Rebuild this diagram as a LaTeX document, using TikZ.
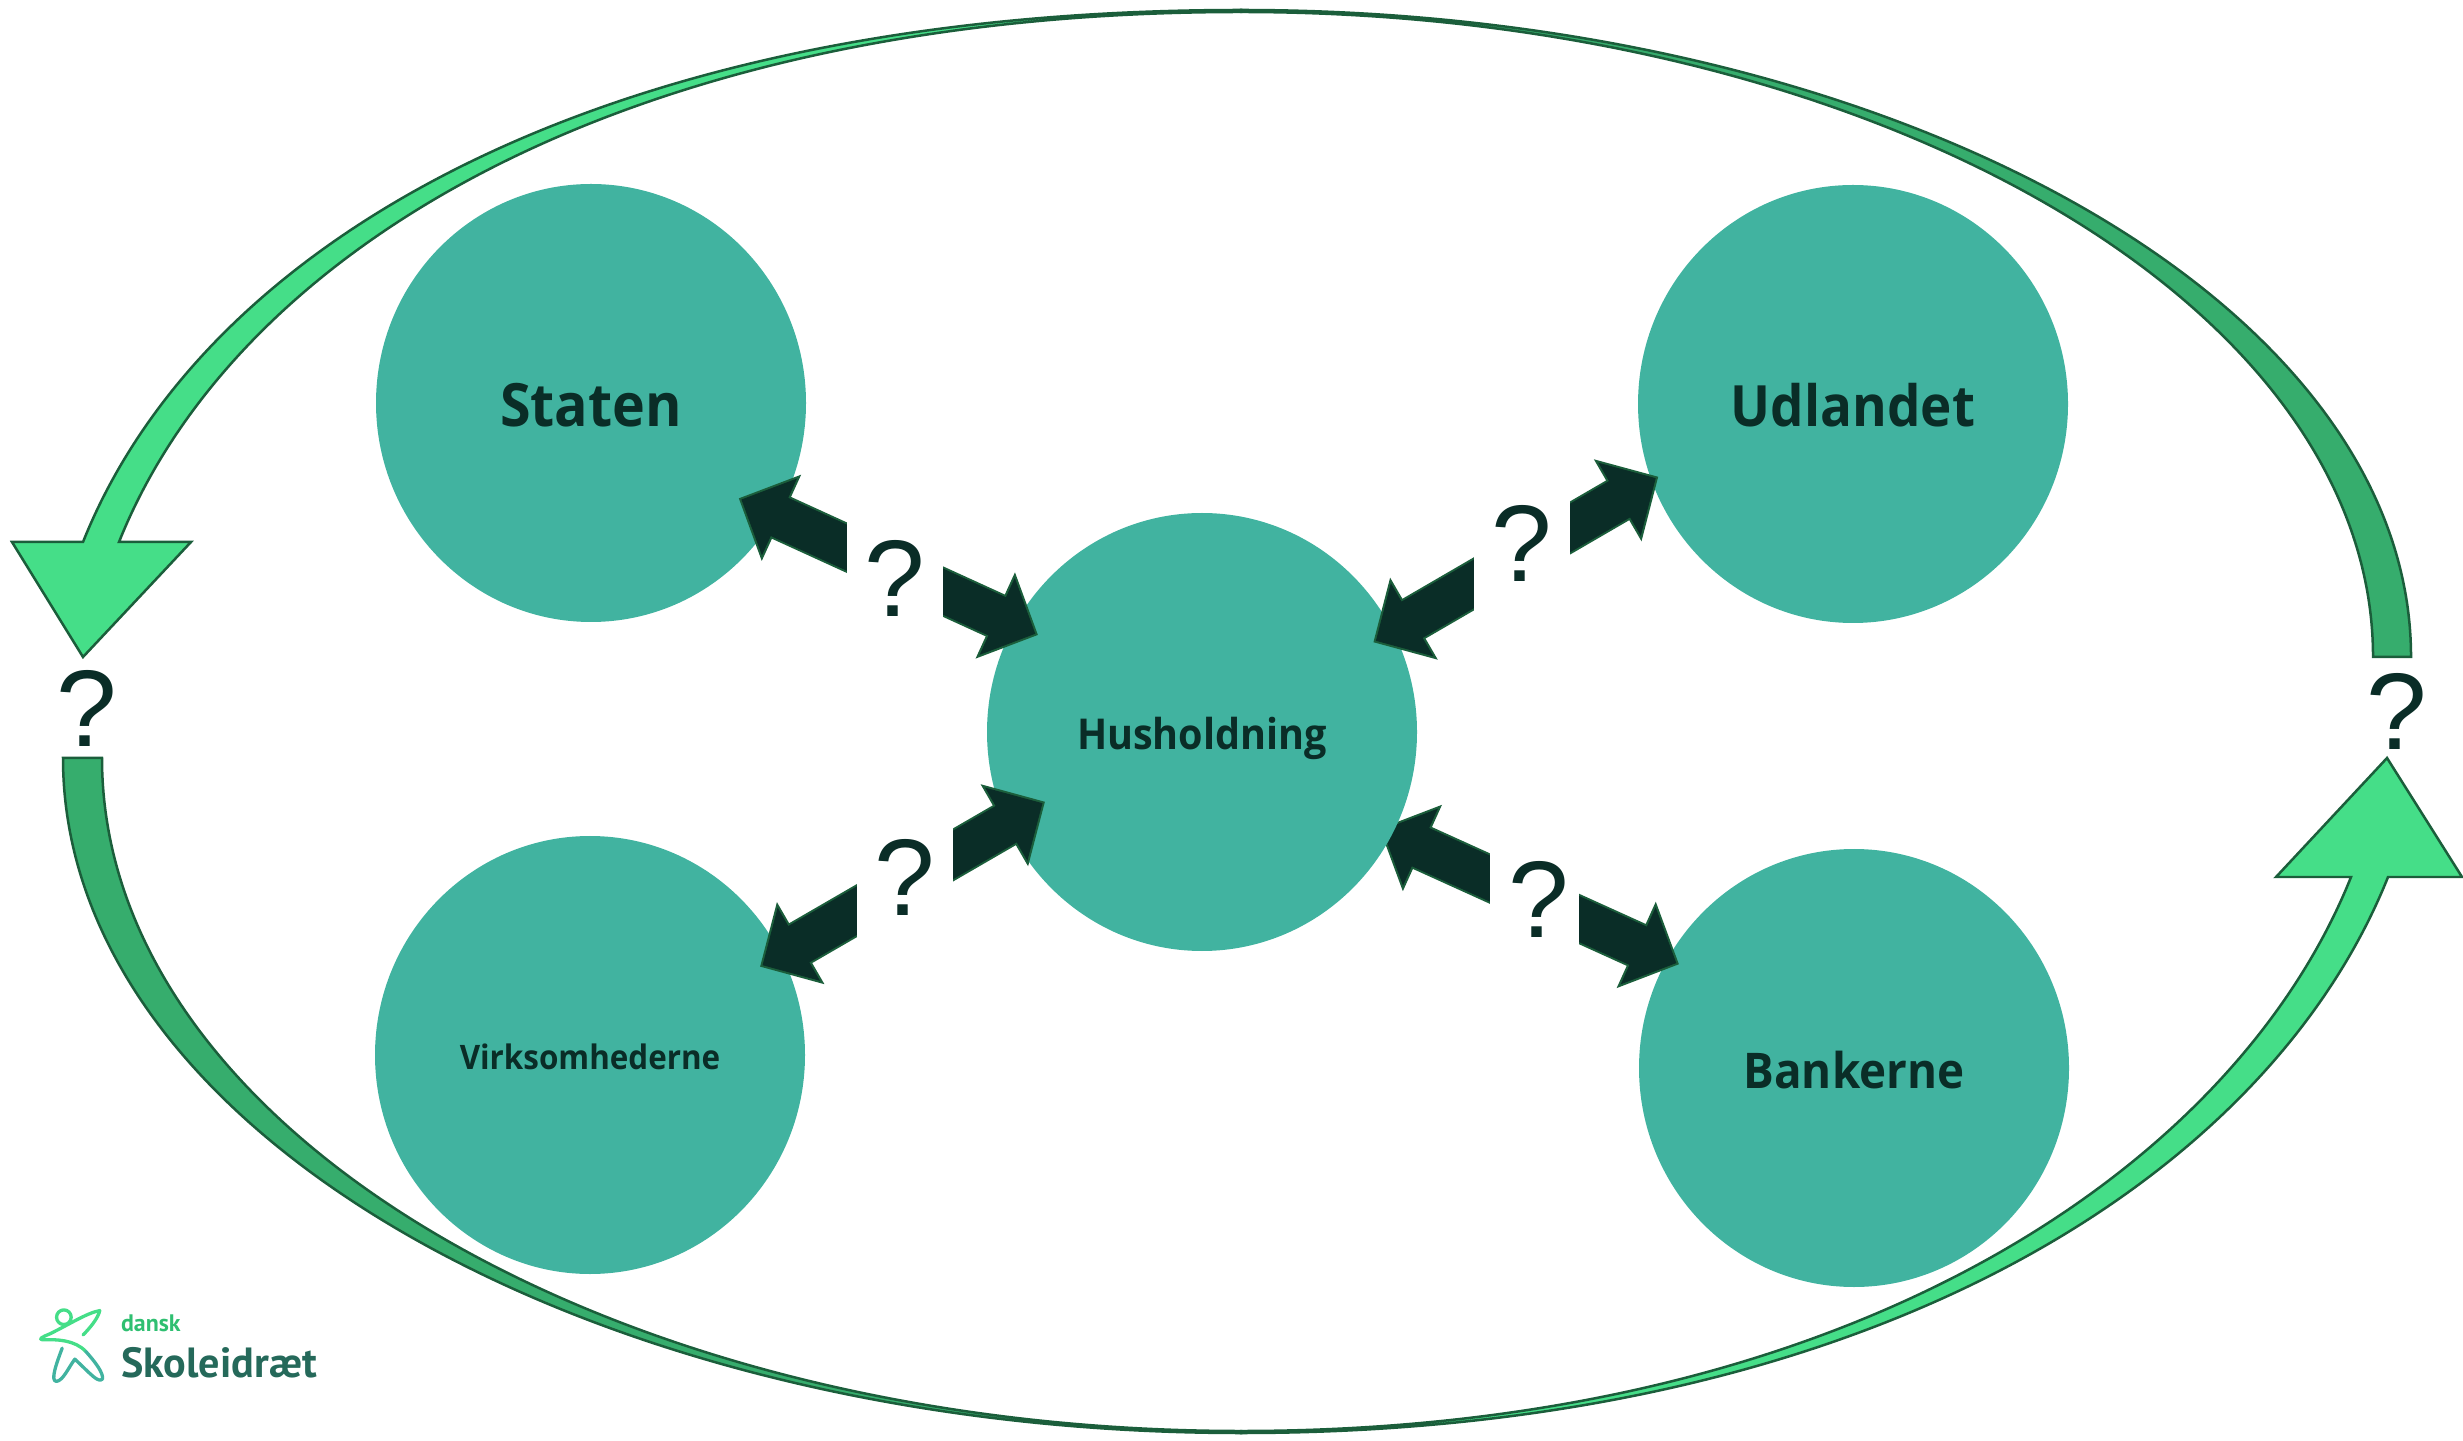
\documentclass[tikz,border=0pt]{standalone}
\usepackage{fontspec}
\usetikzlibrary{arrows.meta,calc,shapes.geometric}
\newfontfamily\labelfont{Open Sans}[FakeStretch=0.93]
\newfontfamily\markfont{Liberation Sans}
\newfontfamily\logofont{PT Sans}
\definecolor{sectorteal}{HTML}{41B3A0}
\definecolor{darktext}{HTML}{0A2D27}
\definecolor{edgegreen}{HTML}{1B5E3B}
\definecolor{lightgreen}{HTML}{45DE88}
\definecolor{midgreen}{HTML}{36AD6D}
\definecolor{logogreen}{HTML}{2FBF71}
\definecolor{logodark}{HTML}{25695A}
\pgfdeclarelayer{circles}
\pgfdeclarelayer{links}
\pgfsetlayers{circles,links,main}
\tikzset{
  sector/.style={ellipse, fill=sectorteal, minimum width=4.30cm, minimum height=4.38cm, inner sep=0pt, text=darktext, text depth=0pt},
  flowlight/.style={draw=edgegreen, fill=lightgreen, line width=0.025cm, line join=miter},
  flowdark/.style={draw=edgegreen, fill=midgreen, line width=0.025cm, line join=miter},
  twowayedge/.style={draw=edgegreen, line width=0.46cm, {Triangle[width=0.92cm,length=0.47cm]}-{Triangle[width=0.92cm,length=0.47cm]}},
  twowayfill/.style={draw=darktext, line width=0.42cm, shorten <=0.0286cm, shorten >=0.0286cm, {Triangle[width=0.82cm,length=0.42cm]}-{Triangle[width=0.82cm,length=0.42cm]}},
  ask/.style={font=\markfont\fontsize{31}{31}\selectfont, text=darktext, inner sep=0pt},
  askbox/.style={ask, fill=white, minimum width=0.96cm, minimum height=1.40cm},
  logostroke/.style={line width=0.033cm, line cap=round, line join=round}
}
\newcommand{\twoway}[2]{\draw[twowayedge] #1 -- #2; \draw[twowayfill] #1 -- #2;}
\begin{document}
\begin{tikzpicture}
\useasboundingbox (0,0) rectangle (24.63,14.40);

% Outer flow
\draw[flowdark] (24.11,7.83) arc[start angle=0,end angle=90,x radius=11.70,y radius=6.47] -- (12.41,14.28) arc[start angle=90,end angle=0,x radius=11.32,y radius=6.45] -- cycle;
\draw[flowlight] (12.41,14.30) .. controls (6.01,14.30) and (2.03,11.98) .. (0.83,8.98) -- (0.12,8.98) -- (0.83,7.83) -- (1.91,8.98) -- (1.19,8.98) .. controls (2.35,11.88) and (6.21,14.28) .. (12.41,14.28) -- cycle;
\draw[flowdark] (0.63,6.82) arc[start angle=180,end angle=270,x radius=11.78,y radius=6.75] -- (12.41,0.09) arc[start angle=270,end angle=180,x radius=11.39,y radius=6.73] -- cycle;
\draw[flowlight] (12.41,0.07) .. controls (18.71,0.07) and (22.68,2.63) .. (23.88,5.63) -- (24.62,5.63) -- (23.87,6.82) -- (22.76,5.63) -- (23.51,5.63) .. controls (22.35,2.73) and (18.51,0.09) .. (12.41,0.09) -- cycle;

% Sectors
\begin{pgfonlayer}{circles}
\node[sector, text height=13.6pt, font=\labelfont\bfseries\fontsize{17}{20}\selectfont] (staten) at (5.91,10.37) {Staten};
\node[sector, text height=13pt, font=\labelfont\bfseries\fontsize{16.2}{20}\selectfont] (udlandet) at (18.53,10.36) {Udlandet};
\node[sector, text height=8.5pt, font=\labelfont\bfseries\fontsize{9.6}{13}\selectfont] (virksomhederne) at (5.90,3.85) {Virksomhederne};
\node[sector, text height=11.4pt, font=\labelfont\bfseries\fontsize{14}{17}\selectfont] (bankerne) at (18.54,3.72) {Bankerne};
\end{pgfonlayer}
\node[sector, text height=10.2pt, font=\labelfont\bfseries\fontsize{12.1}{16}\selectfont] (husholdning) at (12.02,7.08) {Husholdning};

% Two way arrows
\begin{pgfonlayer}{links}
\twoway{($(husholdning)+(1.776,-0.966)$)}{($(bankerne)+(-1.75,1.037)$)}
\end{pgfonlayer}
\twoway{($(staten)+(1.477,-0.953)$)}{($(husholdning)+(-1.64,0.97)$)}
\twoway{($(husholdning)+(1.713,0.897)$)}{($(udlandet)+(-1.947,-0.727)$)}
\twoway{($(virksomhederne)+(1.70,0.883)$)}{($(husholdning)+(-1.57,-0.697)$)}

% Question marks
\node[askbox] (ask1) at (8.95,8.62) {?};
\node[askbox] (ask2) at (15.22,8.97) {?};
\node[askbox] (ask3) at (9.05,5.63) {?};
\node[askbox, minimum width=0.89cm] (ask4) at (15.345,5.41) {\kern0.08cm ?};
\node[ask] (ask5) at (0.87,7.315) {?};
\node[ask] (ask6) at (23.97,7.29) {?};

% Logo
\begin{scope}[shift={(0,1.80)},x=0.00333cm,y=-0.00333cm]
\draw[logostroke, color=lightgreen] (192,172) circle (22);
\draw[logostroke, color=lightgreen] (300,152) .. controls (260,160) and (215,190) .. (150,222) .. controls (125,232) and (115,238) .. (128,240) .. controls (170,238) and (225,240) .. (258,275);
\draw[logostroke, color=lightgreen] (300,152) .. controls (295,175) and (270,205) .. (250,225);
\draw[logostroke, color=sectorteal] (258,275) .. controls (285,305) and (312,340) .. (308,358) .. controls (295,370) and (275,345) .. (225,298) .. controls (205,325) and (190,362) .. (170,365) .. controls (150,365) and (170,310) .. (187,265);
\node[font=\logofont\bfseries\fontsize{6.8}{9}\selectfont, text=logogreen, anchor=base west, inner sep=0pt] (dansk) at (362,215) {dansk};
\node[font=\logofont\bfseries\fontsize{12}{14}\selectfont, text=logodark, anchor=base west, inner sep=0pt] (skoleidraet) at (362,352) {Skoleidræt};
\end{scope}
\end{tikzpicture}
\end{document}
